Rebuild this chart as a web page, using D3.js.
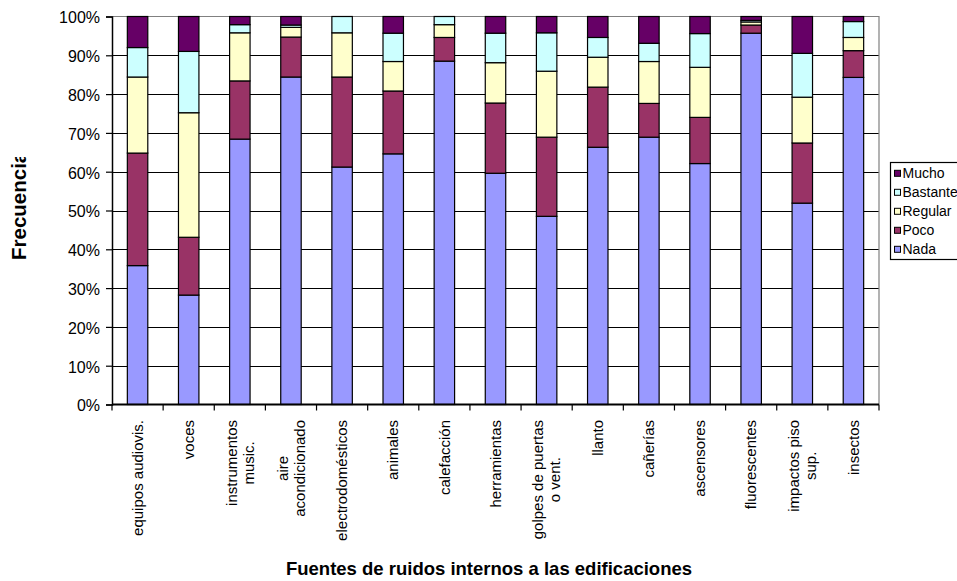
<!DOCTYPE html>
<html>
<head>
<meta charset="utf-8">
<script src="https://cdn.jsdelivr.net/npm/d3@7"></script>
<style>
  body { margin: 0; background: #fff; }
  text { font-family: "Liberation Sans", Arial, sans-serif; }
</style>
</head>
<body>
<svg id="chart" width="957" height="581"></svg>
<script>
// Sources of noise inside buildings ("\n" marks a line break in the axis label)
const categories = [
  "equipos audiovis.", "voces", "instrumentos\nmusic.", "aire\nacondicionado",
  "electrodomésticos", "animales", "calefacción", "herramientas",
  "golpes de puertas\no vent.", "llanto", "cañerías", "ascensores",
  "fluorescentes", "impactos piso\nsup.", "insectos"
];

// Share of answers per level of annoyance (%)
const nada     = [35.8, 28.2, 68.4, 84.4, 61.2, 64.6, 88.5, 59.6, 48.5, 66.3, 68.9, 62.1, 95.7, 51.9, 84.3];
const poco     = [29.0, 14.9, 15.0, 10.3, 23.2, 16.2,  6.1, 18.1, 20.4, 15.5,  8.7, 11.9,  2.1, 15.5,  6.9];
const regular  = [19.6, 32.1, 12.4,  2.5, 11.4,  7.6,  3.3, 10.4, 17.0,  7.7, 10.8, 12.9,  0.8, 11.8,  3.4];
const bastante = [ 7.6, 15.8,  2.1,  0.6,  4.2,  7.3,  2.1,  7.6,  9.9,  5.1,  4.7,  8.7,  0.4, 11.3,  4.1];
const mucho    = [ 8.0,  9.0,  2.1,  2.2,  0.0,  4.3,  0.0,  4.3,  4.2,  5.4,  6.9,  4.4,  1.0,  9.5,  1.3];

const seriesNames = ["Nada", "Poco", "Regular", "Bastante", "Mucho"];
const yTicks = [0, 10, 20, 30, 40, 50, 60, 70, 80, 90, 100];
const colors = ["#9999FF", "#993366", "#FFFFCC", "#CCFFFF", "#660066"];

const seriesValues = [nada, poco, regular, bastante, mucho];
const rows = categories.map((c, i) => {
  const r = { cat: c };
  seriesNames.forEach((s, k) => r[s] = seriesValues[k][i]);
  return r;
});

const svg = d3.select("#chart");
const plot = { left: 112, right: 879, top: 16.5, bottom: 404.5 };

const x = d3.scaleBand().domain(categories)
  .range([plot.left, plot.right]).paddingInner(0.6).paddingOuter(0.3);
const slot = d3.scaleBand().domain(categories).range([plot.left, plot.right]);
const y = d3.scaleLinear().domain([0, 100]).range([plot.bottom, plot.top]);
const color = d3.scaleOrdinal().domain(seriesNames).range(colors);

// horizontal gridlines
svg.append("g").selectAll("line").data(yTicks.filter(t => t > 0 && t < 100)).join("line")
  .attr("x1", plot.left).attr("x2", plot.right)
  .attr("y1", d => Math.round(y(d)) + 0.5).attr("y2", d => Math.round(y(d)) + 0.5)
  .attr("stroke", "#000").attr("stroke-width", 1);

// plot-area frame (top and right edges)
svg.append("path")
  .attr("d", `M${plot.left},${plot.top}H${plot.right}V${plot.bottom}`)
  .attr("fill", "none").attr("stroke", "#808080").attr("stroke-width", 1.2);

// stacked bars
const stacked = d3.stack().keys(seriesNames)(rows);
svg.append("g").selectAll("g").data(stacked).join("g")
  .attr("fill", d => color(d.key))
  .selectAll("rect").data(d => d.filter(p => p[1] - p[0] > 0)).join("rect")
  .attr("x", d => x(d.data.cat))
  .attr("width", x.bandwidth())
  .attr("y", d => y(d[1]))
  .attr("height", d => y(d[0]) - y(d[1]))
  .attr("stroke", "#000").attr("stroke-width", 1.2);

// y axis
const yAxis = d3.axisLeft(y).tickValues(yTicks).tickFormat(d => d + "%").tickSize(6).tickPadding(6);
const gy = svg.append("g").attr("transform", `translate(${plot.left},0)`).call(yAxis);
gy.select(".domain").attr("stroke", "#000").attr("stroke-width", 1.5);
gy.selectAll(".tick line").attr("stroke", "#000").attr("stroke-width", 1.2);
gy.selectAll(".tick text").attr("font-size", 16).attr("fill", "#000")
  .attr("font-family", "'Liberation Sans', Arial, sans-serif").attr("dy", "0.4em");

// x axis: ticks on category boundaries
const gx = svg.append("g").attr("transform", `translate(0,${plot.bottom})`);
gx.append("line").attr("x1", plot.left).attr("x2", plot.right)
  .attr("stroke", "#000").attr("stroke-width", 2);
const bounds = categories.map(c => slot(c)).concat([plot.right]);
gx.selectAll("line.tk").data(bounds).join("line").attr("class", "tk")
  .attr("x1", d => d).attr("x2", d => d).attr("y1", 0).attr("y2", 6)
  .attr("stroke", "#000").attr("stroke-width", 1.2);

// rotated category labels
const labelTop = 420;
const lineGap = 17;
const lab = svg.append("g").selectAll("text").data(categories).join("text")
  .attr("font-size", 15).attr("fill", "#000")
  .attr("text-anchor", "middle");
lab.each(function (c) {
  const lines = c.split("\n");
  const t = d3.select(this);
  const cx = slot(c) + slot.bandwidth() / 2;
  lines.forEach(ln => t.append("tspan").attr("class", "ln").text(ln));
  const maxLen = d3.max(t.selectAll("tspan.ln").nodes(), n => n.getComputedTextLength());
  const cy = labelTop + maxLen / 2;
  t.attr("transform", `translate(${cx},${cy}) rotate(-90)`);
  const n = lines.length;
  t.selectAll("tspan.ln")
    .attr("x", 0)
    .attr("y", (d, k) => (k - (n - 1) / 2) * lineGap)
    .attr("dy", "0.35em");
});

// axis titles
svg.append("text").attr("x", 489).attr("y", 575).attr("text-anchor", "middle")
  .attr("font-size", 18.5).attr("font-weight", "bold")
  .text("Fuentes de ruidos internos a las edificaciones");

svg.append("clipPath").attr("id", "ytitle-clip")
  .append("rect").attr("x", 0).attr("y", 157).attr("width", 40).attr("height", 200);
svg.append("g").attr("clip-path", "url(#ytitle-clip)")
  .append("text")
  .attr("transform", "translate(26,260) rotate(-90)")
  .attr("font-size", 20.5).attr("font-weight", "bold")
  .text("Frecuencia");

// legend (top entry is the last series)
const lg = svg.append("g");
lg.append("rect").attr("x", 890.5).attr("y", 162.5).attr("width", 90).attr("height", 97)
  .attr("fill", "#fff").attr("stroke", "#000").attr("stroke-width", 1.2);
const items = seriesNames.slice().reverse();
const li = lg.selectAll("g.it").data(items).join("g").attr("class", "it")
  .attr("transform", (d, i) => `translate(894,${173.3 + i * 19})`);
li.append("rect").attr("x", 0.5).attr("y", -3).attr("width", 6).attr("height", 6)
  .attr("fill", d => color(d)).attr("stroke", "#000").attr("stroke-width", 1);
li.append("text").attr("x", 8.5).attr("y", 0).attr("dy", "0.35em")
  .attr("font-size", 14).attr("fill", "#000").text(d => d);
</script>
</body>
</html>
